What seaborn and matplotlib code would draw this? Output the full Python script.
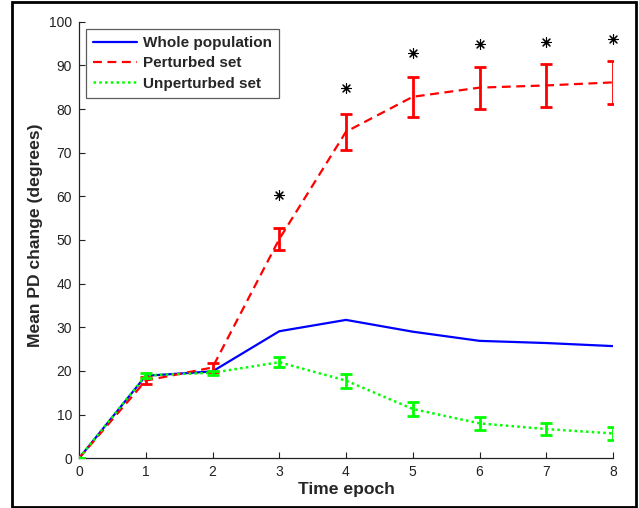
import matplotlib
matplotlib.use("Agg")
import matplotlib.pyplot as plt
import seaborn as sns
import pandas as pd
import numpy as np
from matplotlib.patches import Rectangle
from matplotlib.lines import Line2D

# ---- data ----
epochs = [0, 1, 2, 3, 4, 5, 6, 7, 8]
whole = [0, 18.9, 19.9, 29.1, 31.7, 29.0, 26.9, 26.4, 25.7]
perturbed = [0, 17.8, 20.8, 50.2, 74.8, 82.8, 84.9, 85.4, 86.1]
perturbed_err = [0, 0.8, 1.0, 2.6, 4.1, 4.6, 4.8, 4.9, 4.9]
unperturbed = [0, 19.0, 19.6, 22.0, 17.8, 11.3, 8.0, 6.7, 5.7]
unperturbed_err = [0, 0.6, 0.5, 1.2, 1.6, 1.6, 1.45, 1.4, 1.4]
star_epochs = [3, 4, 5, 6, 7, 8]
star_values = [60.3, 84.9, 92.9, 94.9, 95.4, 96.1]
series_names = ["Whole population", "Perturbed set", "Unperturbed set"]
x_ticks = [0, 1, 2, 3, 4, 5, 6, 7, 8]
y_ticks = [0, 10, 20, 30, 40, 50, 60, 70, 80, 90, 100]

sns.set_style("white")
plt.rcParams['font.family'] = ['Liberation Sans', 'DejaVu Sans']

fig = plt.figure(figsize=(6.39, 5.08), dpi=100)
ax = fig.add_axes([79/639, 49.7/508, (613-79)/639, (458.3-21.7)/508])

df = pd.DataFrame({"epoch": epochs, "whole": whole,
                   "pert": perturbed, "unpert": unperturbed})

sns.lineplot(data=df, x="epoch", y="whole", ax=ax, color=(0, 0, 1),
             lw=1.6, zorder=3)
sns.lineplot(data=df, x="epoch", y="pert", ax=ax, color=(1, 0, 0),
             lw=1.6, zorder=4, dashes=False)
ax.lines[-1].set_dashes((4, 2.5))
sns.lineplot(data=df, x="epoch", y="unpert", ax=ax, color=(0, 1, 0),
             lw=1.8, zorder=5)
ax.lines[-1].set_dashes((1, 1.3))

ax.errorbar(epochs, perturbed, yerr=perturbed_err, fmt='none',
            ecolor=(1, 0, 0), elinewidth=2.0, capsize=4, capthick=2.0, zorder=4)
ax.errorbar(epochs, unperturbed, yerr=unperturbed_err, fmt='none',
            ecolor=(0, 1, 0), elinewidth=2.0, capsize=4, capthick=2.0, zorder=5)

sns.scatterplot(x=star_epochs, y=star_values, ax=ax, marker=(8, 2, 0),
                s=50, color='black', linewidth=0.8, edgecolor='black',
                clip_on=False, zorder=6)

ax.set_xlim(0, 8)
ax.set_ylim(0, 100)
ax.set_xticks(x_ticks)
ax.set_yticks(y_ticks)
ax.tick_params(direction='in', length=4, width=0.8, labelsize=10,
               colors='#222222', pad=5, bottom=True, left=True)
for s in ['top', 'right']:
    ax.spines[s].set_visible(False)
for s in ['left', 'bottom']:
    ax.spines[s].set_color('#222222')
    ax.spines[s].set_linewidth(0.9)

ax.set_xlabel("Time epoch", fontsize=12.6, fontweight='bold', labelpad=2)
ax.set_ylabel("Mean PD change (degrees)", fontsize=12.6, fontweight='bold')
ax.yaxis.set_label_coords(-0.068, 0.51)

handles = [Line2D([], [], color=(0, 0, 1), lw=1.6),
           Line2D([], [], color=(1, 0, 0), lw=1.6, dashes=(4, 2.5)),
           Line2D([], [], color=(0, 1, 0), lw=1.8, dashes=(1, 1.3))]
leg = ax.legend(handles, series_names, loc='upper left',
                bbox_to_anchor=(86/639, 1 - 29/508), bbox_transform=fig.transFigure,
                prop={'weight': 'bold', 'size': 11}, frameon=True,
                fancybox=False, edgecolor='#333333', handlelength=2.9,
                borderpad=0.45, labelspacing=0.42, handletextpad=0.4,
                borderaxespad=0)
leg.get_frame().set_linewidth(0.9)

fig.patches.append(Rectangle((12/639, 1.5/508), (636-12)/639, (506.5-1.5)/508,
                             transform=fig.transFigure, fill=False,
                             edgecolor='black', lw=2))

fig.savefig("out.png", dpi=100)
